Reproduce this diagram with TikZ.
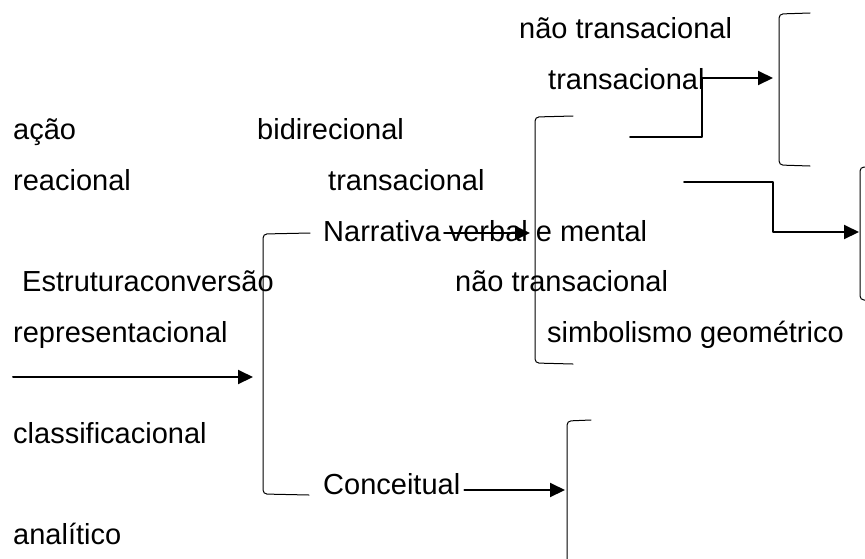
\documentclass[tikz,border=0pt]{standalone}
\usepackage{fontspec}
\setmainfont{Liberation Sans}
\usetikzlibrary{arrows.meta}

\begin{document}
\begin{tikzpicture}[line cap=round,line join=round,x=1pt,y=-1pt,
    lbl/.style={anchor=base west,inner sep=0pt,font=\fontsize{29}{35}\selectfont},
    seta/.style={line width=2pt,-{Triangle[length=15pt,width=14pt]}},
    chave/.style={line width=1pt,rounded corners=4pt}]
\useasboundingbox (0,0) rectangle (865,558);
% textos
\node[lbl] (naotransA) at (519,38) {não transacional};
\node[lbl] (transA) at (548,89) {transacional};
\node[lbl] (acao) at (13,139) {ação};
\node[lbl] (bidir) at (257,139) {bidirecional};
\node[lbl] (reac) at (13,190) {reacional};
\node[lbl] (transB) at (328,190) {transacional};
\node[lbl] (narr) at (323,241) {Narrativa verbal e mental};
\node[lbl] (estr) at (22,291) {Estruturaconversão};
\node[lbl] (naotransB) at (455,291) {não transacional};
\node[lbl] (repr) at (13,342) {representacional};
\node[lbl] (simb) at (547,342) {simbolismo geométrico};
\node[lbl] (classif) at (13,443) {classificacional};
\node[lbl] (conc) at (323,494) {Conceitual};
\node[lbl] (anal) at (13,544) {analítico};
% chaves
\draw[chave] (310,233) -- (263,234) -- (263,494) -- (309,495);
\draw[chave] (573,116) -- (535,117) -- (535,363) -- (573,364);
\draw[chave] (810,13) -- (779,14) -- (779,165) -- (810,166);
\draw[chave] (866,167) -- (860,167) -- (860,300) -- (866,300);
\draw[chave] (591,420) -- (567,421) -- (567,560);
% pontas das setas
\coordinate (iniRep) at (13,377);
\coordinate (fimRep) at (253,377);
\coordinate (iniNarr) at (444,233);
\coordinate (fimNarr) at (530,233);
\coordinate (fimConc) at (565,490);
\coordinate (iniA) at (630,137);
\coordinate (fimA) at (773,78);
\coordinate (iniB) at (684,182);
\coordinate (fimB) at (859,232);
% setas
\draw[seta] (iniRep) -- (fimRep);
\draw[seta] (iniNarr) -- (fimNarr);
\draw[seta] (conc.east |- fimConc) ++(4,0) -- (fimConc);
\draw[seta] (iniA) -- (702,137) |- (fimA);
\draw[seta] (iniB) -- (773,182) |- (fimB);
\end{tikzpicture}
\end{document}
